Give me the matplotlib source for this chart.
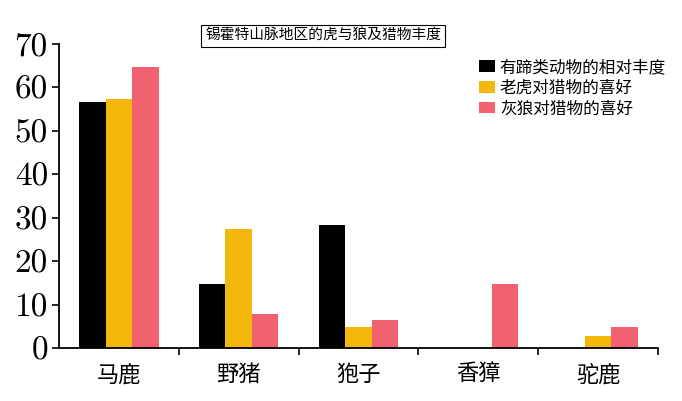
import matplotlib
matplotlib.use("Agg")
import matplotlib.pyplot as plt
import numpy as np

categories = ["马鹿", "野猪", "狍子", "香獐", "驼鹿"]
series_names = ["有蹄类动物的相对丰度", "老虎对猎物的喜好", "灰狼对猎物的喜好"]
abundance = [56.6, 14.7, 28.4, 0, 0]
tiger_pref = [57.4, 27.3, 4.9, 0, 2.7]
wolf_pref = [64.6, 7.8, 6.5, 14.7, 4.9]
yticks = [0, 10, 20, 30, 40, 50, 60, 70]
title = "锡霍特山脉地区的虎与狼及猎物丰度"

colors = ["#000000", "#F4B80C", "#F2616F"]

plt.rcParams['font.family'] = ['Noto Sans CJK SC', 'DejaVu Sans']
plt.rcParams['axes.formatter.use_mathtext'] = True

fig = plt.figure(figsize=(6.82, 4.01), dpi=100)
ax = fig.add_axes([59/682, 1-348/401, (658-59)/682, (348-44)/401])

x = np.arange(len(categories))
w = 0.221
for i, (vals, name) in enumerate(zip([abundance, tiger_pref, wolf_pref], series_names)):
    ax.bar(x + (i-1)*w, vals, width=w, color=colors[i], label=name, linewidth=0)

ax.set_xlim(-0.5, 4.5)
ax.set_ylim(0, 70)
ax.set_yticks(yticks)
ax.set_yticklabels([str(t) for t in yticks], fontfamily='cmr10', fontsize=24)
ax.set_xticks(x)
ax.set_xticklabels(categories, fontsize=16)
ax.tick_params(axis='x', which='major', length=0, pad=11)
ax.set_xticks(np.arange(0.5, 5, 1), minor=True)
ax.tick_params(axis='x', which='minor', length=5, width=1.2, direction='out')
ax.tick_params(axis='y', length=5, width=1.2, direction='out', pad=3)
for s in ['top', 'right']:
    ax.spines[s].set_visible(False)
for s in ['left', 'bottom']:
    ax.spines[s].set_linewidth(1.3)

fig.legend(loc='upper left', bbox_to_anchor=(479/682, 1-59/401), frameon=False,
           fontsize=12, handlelength=0.95, handleheight=0.72, handletextpad=0.3,
           labelspacing=0.22, borderaxespad=0, borderpad=0)

fig.text(323/682, 1-36/401, title, ha='center', va='center', fontsize=10.6,
         bbox=dict(boxstyle='square,pad=0.3', facecolor='white', edgecolor='black', linewidth=0.8))

fig.savefig("out.png", dpi=100)
